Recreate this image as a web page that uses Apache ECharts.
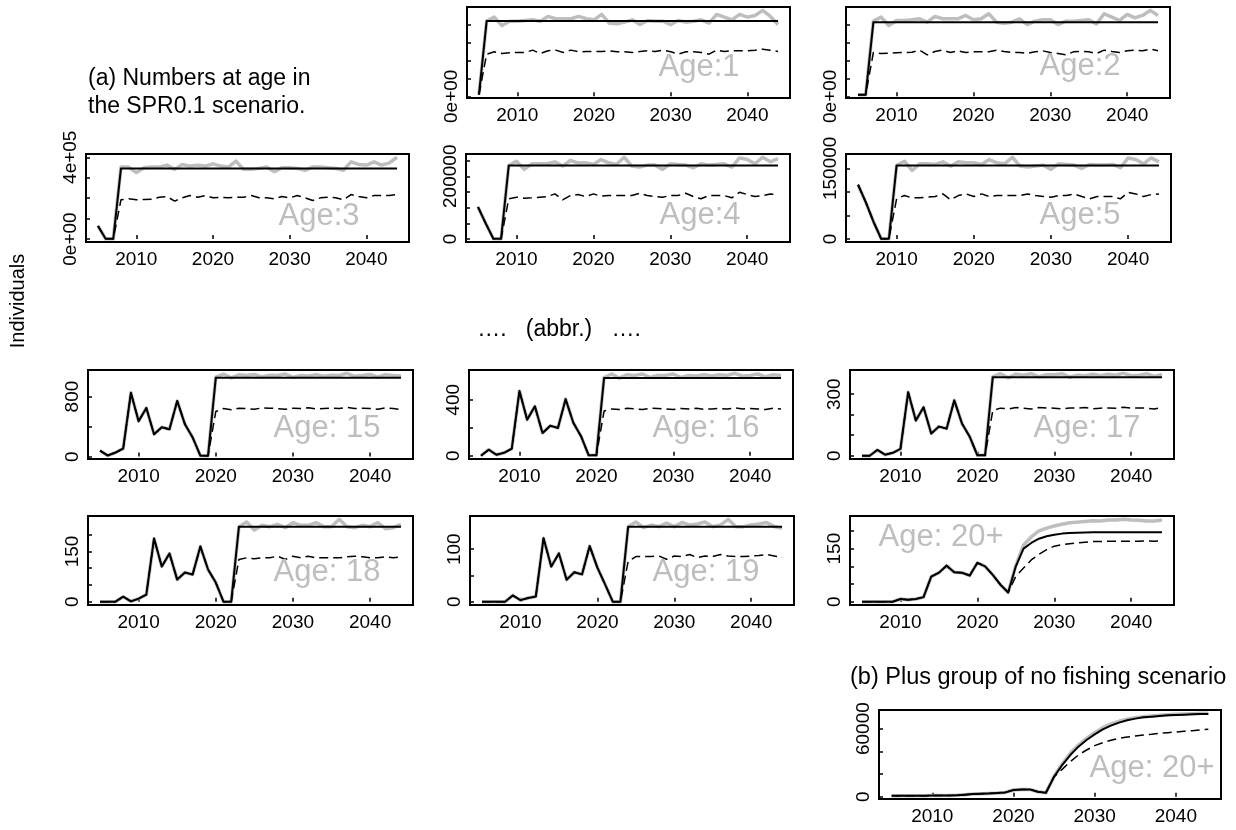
<!DOCTYPE html>
<html>
<head>
<meta charset="utf-8">
<title>Numbers at age</title>
<script src="https://cdn.jsdelivr.net/npm/echarts@6.0.0/dist/echarts.min.js"></script>
<style>
  html, body { margin: 0; padding: 0; background: #fff; }
  #chart { width: 1236px; height: 830px; }
</style>
</head>
<body>
<div id="chart"></div>
<script>
// x axis: projection years
const years = [2005, 2006, 2007, 2008, 2009, 2010, 2011, 2012, 2013, 2014,
  2015, 2016, 2017, 2018, 2019, 2020, 2021, 2022, 2023, 2024,
  2025, 2026, 2027, 2028, 2029, 2030, 2031, 2032, 2033, 2034,
  2035, 2036, 2037, 2038, 2039, 2040, 2041, 2042, 2043, 2044];
const xTicks = [2010, 2020, 2030, 2040];

// each panel: shared history, then solid / grey / dashed projections

// Age 1
const age1Hist = [18800];
const age1Solid = [838000, 838000, 838000, 838000, 838000, 838000, 838000, 838000, 838000, 838000,
  838000, 838000, 838000, 838000, 838000, 838000, 838000, 838000, 838000, 838000,
  838000, 838000, 838000, 838000, 838000, 838000, 838000, 838000, 838000, 838000,
  838000, 838000, 838000, 838000, 838000, 838000, 838000, 838000, 838000];
const age1Grey = [837600, 882700, 788800, 837600, 837600, 845100, 852600, 837600, 890200, 863900,
  863900, 863900, 890200, 863900, 852600, 912700, 815100, 807700, 826400, 852600,
  800000, 845100, 837600, 837600, 800000, 845100, 826400, 837600, 852600, 815100,
  912700, 882700, 852600, 912700, 882700, 901400, 957800, 890200, 800000];
const age1Dash = [469500, 495800, 477000, 484500, 488300, 488300, 514600, 477000, 507100, 514600,
  488300, 514600, 495800, 499500, 499500, 499500, 507100, 495800, 495800, 488300,
  499500, 507100, 499500, 514600, 495800, 469500, 495800, 495800, 488300, 469500,
  514600, 499500, 507100, 507100, 507100, 514600, 525800, 514600, 499500];
const age1Ticks = [0, 200000, 400000, 600000, 800000];
const age1LabelAt = [0];
const age1LabelText = ['0e+00'];

// Age 2
const age2Hist = [18800, 18800];
const age2Solid = [826400, 826400, 826400, 826400, 826400, 826400, 826400, 826400, 826400, 826400,
  826400, 826400, 826400, 826400, 826400, 826400, 826400, 826400, 826400, 826400,
  826400, 826400, 826400, 826400, 826400, 826400, 826400, 826400, 826400, 826400,
  826400, 826400, 826400, 826400, 826400, 826400, 826400, 826400];
const age2Grey = [837600, 882700, 788800, 845100, 845100, 852600, 863900, 826400, 890200, 863900,
  863900, 863900, 901400, 852600, 863900, 920200, 826400, 815100, 826400, 863900,
  800000, 837600, 852600, 852600, 800000, 837600, 837600, 845100, 852600, 807700,
  920200, 882700, 845100, 912700, 875100, 901400, 957800, 901400];
const age2Dash = [488300, 477000, 480800, 484500, 488300, 492000, 514600, 462000, 499500, 514600,
  488300, 507100, 488300, 495800, 495800, 495800, 514600, 499500, 488300, 488300,
  477000, 495800, 507100, 488300, 477000, 462000, 495800, 499500, 495800, 477000,
  514600, 499500, 488300, 507100, 514600, 507100, 525800, 507100];
const age2Ticks = [0, 200000, 400000, 600000, 800000];
const age2LabelAt = [0];
const age2LabelText = ['0e+00'];

// Age 3
const age3Hist = [64000, 1600, 1600];
const age3Solid = [345600, 345600, 345600, 345600, 345600, 345600, 345600, 345600, 345600, 345600,
  345600, 345600, 345600, 345600, 345600, 345600, 345600, 345600, 345600, 345600,
  345600, 345600, 345600, 345600, 345600, 345600, 345600, 345600, 345600, 345600,
  345600, 345600, 345600, 345600, 345600, 345600, 345600];
const age3Grey = [352000, 352000, 324800, 348800, 352000, 352000, 361600, 340800, 364800, 356800,
  361600, 356800, 368000, 356800, 352000, 380800, 340800, 340800, 345600, 352000,
  329600, 348800, 348800, 345600, 336000, 352000, 352000, 348800, 345600, 336000,
  377600, 364800, 361600, 377600, 361600, 372800, 400000];
const age3Dash = [192000, 196800, 192000, 193600, 195200, 204800, 208000, 185600, 201600, 212800,
  204800, 212800, 201600, 204800, 201600, 204800, 204800, 212800, 201600, 201600,
  196800, 208000, 201600, 212800, 201600, 188800, 201600, 204800, 201600, 192000,
  217600, 208000, 201600, 212800, 212800, 212800, 217600];
const age3Ticks = [0, 100000, 200000, 300000, 400000];
const age3LabelAt = [0, 400000];
const age3LabelText = ['0e+00', '4e+05'];

// Age 4
const age4Hist = [102100, 50000, 1000, 1000];
const age4Solid = [234400, 234400, 234400, 234400, 234400, 234400, 234400, 234400, 234400, 234400,
  234400, 234400, 234400, 234400, 234400, 234400, 234400, 234400, 234400, 234400,
  234400, 234400, 234400, 234400, 234400, 234400, 234400, 234400, 234400, 234400,
  234400, 234400, 234400, 234400, 234400, 234400];
const age4Grey = [234450, 248000, 221950, 239660, 239660, 239660, 245900, 232370, 250080, 242790,
  242790, 237580, 253210, 242790, 237580, 260500, 232370, 229240, 235490, 235490,
  221950, 239660, 237580, 235490, 227160, 239660, 235490, 237580, 239660, 229240,
  258420, 253210, 239660, 260500, 245900, 256330];
const age4Dash = [128170, 133380, 130250, 131290, 133380, 135460, 143800, 125040, 138590, 141710,
  135460, 143800, 136500, 138590, 138590, 138590, 138590, 145880, 138590, 135460,
  133380, 138590, 138590, 145880, 135460, 128170, 138590, 138590, 138590, 131290,
  149010, 141710, 135460, 138590, 143800, 141710];
const age4Ticks = [0, 50000, 100000, 150000, 200000, 250000];
const age4LabelAt = [0, 200000];
const age4LabelText = ['0', '200000'];

// Age 5
const age5Hist = [115200, 78400, 36800, 700, 700];
const age5Solid = [156150, 156150, 156150, 156150, 156150, 156150, 156150, 156150, 156150, 156150,
  156150, 156150, 156150, 156150, 156150, 156150, 156150, 156150, 156150, 156150,
  156150, 156150, 156150, 156150, 156150, 156150, 156150, 156150, 156150, 156150,
  156150, 156150, 156150, 156150, 156150];
const age5Grey = [156150, 165170, 145740, 159620, 159620, 158230, 163780, 154760, 163780, 161700,
  161700, 158230, 168640, 161700, 159620, 173500, 154760, 152680, 154760, 156840,
  147820, 159620, 158230, 156840, 149900, 158230, 156840, 156840, 158230, 151290,
  172110, 168640, 159620, 172110, 163780];
const age5Dash = [85360, 92300, 87440, 87440, 88830, 90220, 95770, 83280, 92300, 95770,
  90220, 95770, 90220, 92300, 92300, 92300, 92300, 95770, 92300, 90220,
  88830, 92300, 92300, 95770, 90220, 85360, 90220, 90220, 90220, 85360,
  99240, 95770, 90220, 94380, 95770];
const age5Ticks = [0, 50000, 100000, 150000];
const age5LabelAt = [0, 150000];
const age5LabelText = ['0', '150000'];

// Age 15
const age15Hist = [80, 14, 54, 108, 850, 472, 648, 297, 391, 364, 742, 432, 256, 12, 12];
const age15Solid = [1050, 1050, 1050, 1050, 1050, 1050, 1050, 1050, 1050, 1050,
  1050, 1050, 1050, 1050, 1050, 1050, 1050, 1050, 1050, 1050, 1050, 1050, 1050, 1050, 1050];
const age15Grey = [1060, 1100, 1050, 1090, 1080, 1095, 1060, 1085, 1080, 1100,
  1055, 1080, 1075, 1090, 1070, 1085, 1080, 1110, 1070, 1080, 1095, 1060, 1090, 1080, 1075];
const age15Dash = [600, 640, 625, 645, 640, 630, 650, 645, 640, 630,
  645, 640, 650, 635, 640, 645, 640, 655, 640, 645, 640, 630, 650, 640, 625];
const age15Ticks = [0, 400, 800];
const age15LabelAt = [0, 800];
const age15LabelText = ['0', '800'];

// Age 16
const age16Hist = [0, 43, 7, 21, 50, 464, 258, 354, 162, 214, 199, 405, 236, 140, 3, 3];
const age16Solid = [557, 557, 557, 557, 557, 557, 557, 557, 557, 557, 557, 557,
  557, 557, 557, 557, 557, 557, 557, 557, 557, 557, 557, 557];
const age16Grey = [560, 585, 555, 580, 575, 585, 560, 575, 575, 585, 560, 575,
  570, 580, 570, 580, 575, 590, 570, 575, 585, 565, 580, 575];
const age16Dash = [320, 335, 330, 340, 335, 330, 340, 338, 335, 330, 338, 335,
  340, 332, 335, 338, 335, 342, 335, 338, 335, 330, 340, 335];
const age16Ticks = [0, 200, 400];
const age16LabelAt = [0, 400];
const age16LabelText = ['0', '400'];

// Age 17
const age17Hist = [0, 0, 28, 5, 14, 33, 310, 172, 236, 108, 142, 132, 270, 157, 93, 2, 2];
const age17Solid = [383, 383, 383, 383, 383, 383, 383, 383, 383, 383, 383, 383,
  383, 383, 383, 383, 383, 383, 383, 383, 383, 383, 383];
const age17Grey = [385, 400, 380, 398, 393, 400, 385, 395, 395, 400, 383, 393,
  390, 398, 390, 397, 393, 402, 390, 393, 400, 387, 397];
const age17Dash = [220, 232, 228, 235, 232, 228, 235, 233, 232, 228, 233, 232,
  235, 229, 232, 233, 232, 236, 232, 233, 232, 228, 235];
const age17Ticks = [0, 100, 200, 300];
const age17LabelAt = [0, 300];
const age17LabelText = ['0', '300'];

// Age 18
const age18Hist = [0, 0, 0, 15, 1, 9, 21, 189, 105, 144, 66, 87, 81, 165, 96, 57, 0, 0];
const age18Solid = [224, 224, 224, 224, 224, 224, 224, 224, 224, 224, 224,
  224, 224, 224, 224, 224, 224, 224, 224, 224, 224, 224];
const age18Grey = [224, 238, 214, 228, 224, 231, 221, 236, 228, 228, 236,
  224, 224, 246, 224, 221, 228, 224, 236, 218, 221, 231];
const age18Dash = [126, 131, 128, 131, 131, 136, 126, 136, 131, 136, 131,
  131, 131, 131, 134, 136, 134, 131, 131, 134, 131, 134];
const age18Ticks = [0, 50, 100, 150, 200];
const age18LabelAt = [0, 150];
const age18LabelText = ['0', '150'];

// Age 19
const age19Hist = [0, 0, 0, 0, 12, 3, 7, 10, 121, 67, 92, 42, 56, 52, 106, 65, 33, 0, 0];
const age19Solid = [143, 143, 143, 143, 143, 143, 143, 143, 143, 143, 143,
  143, 143, 143, 143, 143, 143, 143, 143, 143, 143];
const age19Grey = [143, 152, 141, 146, 143, 150, 143, 151, 146, 148, 152,
  143, 146, 157, 143, 143, 146, 148, 151, 143, 140];
const age19Dash = [77, 86, 86, 86, 87, 81, 87, 86, 90, 84, 87,
  86, 90, 87, 86, 86, 87, 88, 90, 87, 84];
const age19Ticks = [0, 50, 100];
const age19LabelAt = [0, 100];
const age19LabelText = ['0', '100'];

// Age 20+ (plus group)
const age20Hist = [0, 0, 0, 0, 0, 7.6, 5.7, 7.6, 13, 71, 82, 102, 83, 82, 74, 110, 100, 76, 48, 26];
const age20Solid = [100, 150, 166, 178, 185, 189.5, 192.5, 194, 195, 196,
  196.3, 196.3, 196.3, 196.3, 196.3, 196.3, 196.3, 196.3, 196.3, 196.3];
const age20Grey = [103, 160, 183, 200, 208, 214, 219, 223, 225, 227,
  229, 228, 231, 231, 233, 231, 230, 228, 228, 231];
const age20Dash = [72, 95, 118, 134, 147, 157, 161, 164, 166, 168,
  170, 170, 171, 171, 171, 171, 171, 172, 171, 172];
const age20Ticks = [0, 50, 100, 150, 200];
const age20LabelAt = [0, 150];
const age20LabelText = ['0', '150'];

// (b) plus group, no fishing
const noFishHist = [900, 900, 900, 900, 900, 1000, 1000, 1100, 1200, 1760,
  2350, 2650, 2940, 3230, 3820, 5880, 6470, 6470, 4410, 3530];
const noFishSolid = [17640, 27930, 36750, 44100, 49980, 54980, 59390, 62620, 65270, 67330,
  68800, 69970, 70560, 71150, 71740, 72030, 72320, 72620, 72910, 72910];
const noFishGrey = [18000, 28810, 38220, 45570, 51450, 56450, 60860, 64090, 66440, 68210,
  69680, 70560, 71150, 71740, 72320, 72620, 72910, 73200, 73500, 73500];
const noFishDash = [17640, 24110, 30870, 36750, 41160, 44980, 47630, 49690, 51450, 52630,
  53510, 54390, 54980, 55860, 56450, 57040, 57620, 58210, 58800, 59390];
const noFishTicks = [0, 20000, 40000, 60000];
const noFishLabelAt = [0, 60000];
const noFishLabelText = ['0', '60000'];

const FONT = '"Liberation Sans", Arial, Helvetica, sans-serif';
const GREY = '#bebebe';

// panel layout: box = [left, top, width, height], tag = [text, cx, cy]
const panels = [
  { hist: age1Hist, solid: age1Solid, grey: age1Grey, dash: age1Dash, ticks: age1Ticks, labelAt: age1LabelAt, labelText: age1LabelText, box: [467, 7, 323, 91], tag: ['Age:1', 699, 67] },
  { hist: age2Hist, solid: age2Solid, grey: age2Grey, dash: age2Dash, ticks: age2Ticks, labelAt: age2LabelAt, labelText: age2LabelText, box: [846, 7, 324, 91], tag: ['Age:2', 1080, 66] },
  { hist: age3Hist, solid: age3Solid, grey: age3Grey, dash: age3Dash, ticks: age3Ticks, labelAt: age3LabelAt, labelText: age3LabelText, box: [86, 154, 323, 88], tag: ['Age:3', 319, 216] },
  { hist: age4Hist, solid: age4Solid, grey: age4Grey, dash: age4Dash, ticks: age4Ticks, labelAt: age4LabelAt, labelText: age4LabelText, box: [466, 154, 324, 88], tag: ['Age:4', 700, 215] },
  { hist: age5Hist, solid: age5Solid, grey: age5Grey, dash: age5Dash, ticks: age5Ticks, labelAt: age5LabelAt, labelText: age5LabelText, box: [846, 154, 325, 88], tag: ['Age:5', 1080, 215] },
  { hist: age15Hist, solid: age15Solid, grey: age15Grey, dash: age15Dash, ticks: age15Ticks, labelAt: age15LabelAt, labelText: age15LabelText, box: [88, 370, 325, 89], tag: ['Age: 15', 327, 428] },
  { hist: age16Hist, solid: age16Solid, grey: age16Grey, dash: age16Dash, ticks: age16Ticks, labelAt: age16LabelAt, labelText: age16LabelText, box: [469, 370, 324, 89], tag: ['Age: 16', 706, 428] },
  { hist: age17Hist, solid: age17Solid, grey: age17Grey, dash: age17Dash, ticks: age17Ticks, labelAt: age17LabelAt, labelText: age17LabelText, box: [850, 370, 324, 89], tag: ['Age: 17', 1087, 428] },
  { hist: age18Hist, solid: age18Solid, grey: age18Grey, dash: age18Dash, ticks: age18Ticks, labelAt: age18LabelAt, labelText: age18LabelText, box: [88, 516, 325, 89], tag: ['Age: 18', 327, 572] },
  { hist: age19Hist, solid: age19Solid, grey: age19Grey, dash: age19Dash, ticks: age19Ticks, labelAt: age19LabelAt, labelText: age19LabelText, box: [470, 516, 324, 89], tag: ['Age: 19', 706, 572] },
  { hist: age20Hist, solid: age20Solid, grey: age20Grey, dash: age20Dash, ticks: age20Ticks, labelAt: age20LabelAt, labelText: age20LabelText, box: [850, 516, 324, 89], tag: ['Age: 20+', 941, 537] },
  { hist: noFishHist, solid: noFishSolid, grey: noFishGrey, dash: noFishDash, ticks: noFishTicks, labelAt: noFishLabelAt, labelText: noFishLabelText, box: [879, 710, 342, 89], tag: ['Age: 20+', 1152, 768] }
];

function toPoints(hist, proj) {
  const vals = hist.concat(proj);
  return vals.map((v, i) => [years[i], v]);
}

// R-style range: data range widened by 4% on each side
function padRange(lo, hi) {
  const pad = (hi - lo) * 0.04;
  return [lo - pad, hi + pad];
}

const xRange = padRange(years[0], years[years.length - 1]);

const grid = [], xAxis = [], yAxis = [], series = [], graphic = [];

panels.forEach((p, i) => {
  const all = p.hist.concat(p.solid, p.grey, p.dash);
  const yRange = padRange(Math.min(...all), Math.max(...all));

  grid.push({
    left: p.box[0], top: p.box[1], width: p.box[2], height: p.box[3],
    show: true, borderColor: '#000', borderWidth: 2, backgroundColor: 'transparent'
  });

  xAxis.push({
    type: 'value', gridIndex: i, min: xRange[0], max: xRange[1],
    axisLine: { show: false },
    splitLine: { show: false },
    axisTick: { show: true, inside: true, length: 4, customValues: xTicks, lineStyle: { color: '#000', width: 1.5 } },
    axisLabel: {
      customValues: xTicks, color: '#000', fontSize: 19, fontFamily: FONT, margin: 8,
      formatter: v => String(v)
    }
  });

  yAxis.push({
    type: 'value', gridIndex: i, min: yRange[0], max: yRange[1],
    axisLine: { show: false },
    splitLine: { show: false },
    axisTick: { show: true, inside: true, length: 4, customValues: p.ticks, lineStyle: { color: '#000', width: 1.5 } },
    axisLabel: {
      customValues: p.labelAt, rotate: 90, color: '#000', fontSize: 19, fontFamily: FONT, margin: 6,
      formatter: v => p.labelText[p.labelAt.indexOf(v)]
    }
  });

  const common = { type: 'line', xAxisIndex: i, yAxisIndex: i, showSymbol: false, symbol: 'none', silent: true, animation: false };
  series.push(Object.assign({}, common, {
    data: toPoints(p.hist, p.grey), z: 2,
    lineStyle: { color: GREY, width: 3.5, join: 'round' }
  }));
  series.push(Object.assign({}, common, {
    data: toPoints(p.hist, p.solid), z: 3,
    lineStyle: { color: '#000', width: 2, join: 'round' }
  }));
  series.push(Object.assign({}, common, {
    data: toPoints(p.hist, p.dash), z: 4,
    lineStyle: { color: '#000', width: 1.5, type: [9, 5], join: 'round' }
  }));

  graphic.push({
    type: 'text', x: p.tag[1], y: p.tag[2], silent: true, z: 10,
    style: { text: p.tag[0], fill: GREY, font: '31px ' + FONT, textAlign: 'center', textVerticalAlign: 'middle' }
  });
});

// free text around the panels
graphic.push(
  { type: 'text', x: 88, y: 79, style: { text: '(a) Numbers at age in', fill: '#000', font: '23px ' + FONT, textAlign: 'left', textVerticalAlign: 'middle' } },
  { type: 'text', x: 88, y: 107, style: { text: 'the SPR0.1 scenario.', fill: '#000', font: '23px ' + FONT, textAlign: 'left', textVerticalAlign: 'middle' } },
  { type: 'text', x: 18, y: 301, rotation: Math.PI / 2, style: { text: 'Individuals', fill: '#000', font: '20px ' + FONT, textAlign: 'center', textVerticalAlign: 'middle' } },
  { type: 'text', x: 559, y: 330, style: { text: '….   (abbr.)   ….', fill: '#000', font: '23px ' + FONT, textAlign: 'center', textVerticalAlign: 'middle' } },
  { type: 'text', x: 850, y: 678, style: { text: '(b) Plus group of no fishing scenario', fill: '#000', font: '23.5px ' + FONT, textAlign: 'left', textVerticalAlign: 'middle' } }
);

const chart = echarts.init(document.getElementById('chart'), null, { renderer: 'canvas' });
chart.setOption({
  animation: false,
  backgroundColor: '#fff',
  grid, xAxis, yAxis, series, graphic
});
</script>
</body>
</html>
